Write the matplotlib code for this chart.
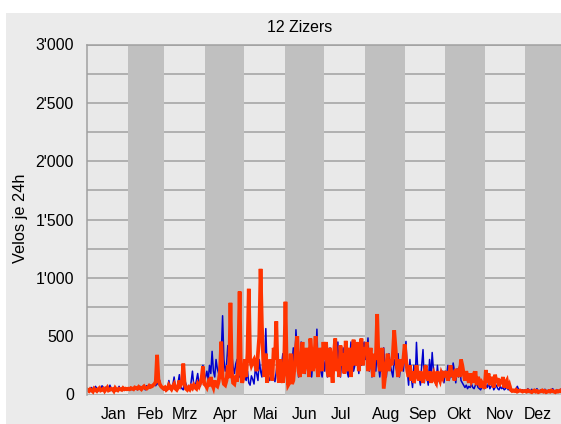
import matplotlib
matplotlib.use("Agg")
import matplotlib.pyplot as plt
from matplotlib.patches import Rectangle

plt.rcParams["font.family"] = ["Liberation Sans", "DejaVu Sans"]

TITLE = "12 Zizers"
Y_LABEL = "Velos je 24h"
MONTHS = ["Jan", "Feb", "Mrz", "Apr", "Mai", "Jun", "Jul", "Aug", "Sep", "Okt", "Nov", "Dez"]
MONTH_DAYS = [31, 28, 31, 30, 31, 30, 31, 31, 30, 31, 30, 31]
# where the month names sit (day of year)
LABEL_DAYS = [20, 48, 75, 106, 136, 166, 194, 228, 256, 284, 315, 344]
Y_TICKS = [0, 500, 1000, 1500, 2000, 2500, 3000]

# daily counts, blue series, one list per month
blue_by_month = [
    [30, 45, 25, 60, 40, 35, 70, 50, 30, 55, 45, 75, 40, 35, 65, 50, 40, 80, 45, 30,
     55, 60, 35, 50, 70, 40, 45, 55, 35, 50, 45],
    [45, 50, 40, 55, 45, 60, 50, 40, 55, 70, 45, 50, 60, 40, 75, 55, 60, 80, 65, 70,
     90, 75, 100, 85, 120, 60, 50, 40],
    [40, 30, 60, 120, 50, 40, 80, 150, 60, 45, 100, 170, 70, 50, 40, 130, 90, 60, 40, 50,
     110, 200, 80, 60, 120, 180, 90, 70, 150, 250, 120],
    [150, 200, 120, 250, 180, 370, 200, 150, 300, 220, 180, 260, 350, 675, 300, 200, 250, 420, 280, 200,
     350, 240, 180, 260, 300, 200, 150, 280, 220, 130],
    [150, 120, 200, 100, 80, 160, 130, 90, 220, 180, 120, 300, 200, 150, 350, 250, 565, 200, 150, 120,
     180, 260, 140, 110, 200, 300, 180, 140, 250, 350, 200],
    [250, 150, 200, 300, 150, 250, 400, 200, 555, 350, 150, 300, 450, 250, 200, 180, 350, 300, 200, 250,
     150, 300, 400, 250, 560, 180, 350, 200, 150, 300],
    [200, 350, 150, 250, 400, 300, 150, 200, 350, 250, 450, 200, 150, 300, 400, 250, 350, 200, 150, 300,
     450, 350, 200, 250, 400, 300, 180, 350, 250, 400, 450],
    [300, 350, 485, 200, 350, 150, 250, 300, 200, 400, 250, 150, 300, 250, 400, 200, 150, 300, 350, 250,
     200, 150, 300, 250, 200, 350, 150, 250, 300, 200, 350],
    [455, 200, 80, 300, 150, 60, 250, 100, 447, 200, 150, 80, 250, 385, 100, 250, 150, 80, 300, 150,
     360, 200, 150, 80, 250, 120, 100, 150, 200, 100],
    [200, 150, 250, 120, 180, 150, 270, 200, 100, 220, 150, 250, 120, 100, 80, 60, 80, 50, 70, 60,
     90, 60, 50, 80, 100, 60, 50, 40, 70, 60, 50],
    [80, 60, 100, 50, 70, 90, 40, 60, 80, 50, 40, 70, 50, 60, 40, 50, 70, 40, 50, 30,
     35, 40, 30, 50, 70, 40, 30, 35, 40, 30],
    [40, 30, 50, 35, 25, 45, 30, 40, 35, 50, 30, 25, 40, 35, 30, 45, 35, 25, 40, 30,
     35, 50, 30, 25, 40, 35, 30, 45, 30, 35, 40],
]

# daily counts, orange series, one list per month
orange_by_month = [
    [40, 30, 45, 35, 25, 50, 40, 30, 45, 55, 35, 40, 50, 30, 45, 60, 35, 40, 50, 45,
     30, 55, 40, 35, 50, 45, 40, 55, 45, 50, 45],
    [50, 45, 55, 50, 45, 60, 55, 50, 65, 55, 45, 60, 70, 55, 50, 60, 75, 65, 70, 80,
     90, 110, 340, 130, 90, 70, 60, 50],
    [60, 40, 50, 80, 60, 45, 70, 90, 50, 40, 60, 120, 80, 100, 265, 90, 50, 40, 60, 45,
     70, 55, 80, 60, 50, 90, 70, 100, 140, 240, 90],
    [80, 60, 100, 70, 150, 90, 60, 120, 80, 70, 110, 200, 453, 150, 90, 80, 120, 250, 140, 786,
     200, 100, 90, 160, 110, 300, 883, 180, 100, 150],
    [300, 150, 350, 906, 300, 250, 280, 300, 250, 200, 350, 500, 1077, 600, 300, 150, 350, 100, 200, 300,
     250, 120, 400, 300, 627, 200, 100, 300, 150, 100, 250],
    [795, 200, 80, 100, 350, 90, 120, 250, 400, 500, 200, 150, 300, 450, 180, 250, 400, 300, 150, 480,
     350, 200, 300, 500, 250, 150, 400, 300, 200, 450],
    [300, 450, 200, 150, 400, 250, 100, 350, 480, 200, 300, 150, 420, 250, 350, 180, 460, 300, 200, 400,
     150, 350, 470, 250, 300, 450, 200, 380, 480, 250, 400],
    [350, 450, 200, 300, 400, 250, 150, 350, 300, 690, 300, 200, 250, 400, 50, 150, 250, 350, 200, 300,
     250, 350, 550, 400, 250, 150, 300, 200, 250, 300, 430],
    [300, 200, 150, 250, 120, 200, 100, 150, 250, 180, 120, 200, 150, 100, 180, 250, 150, 120, 200, 100,
     150, 180, 120, 100, 200, 150, 120, 180, 150, 200],
    [150, 200, 120, 180, 250, 150, 200, 120, 220, 180, 200, 150, 300, 250, 180, 120, 200, 150, 100, 180,
     120, 150, 100, 200, 80, 150, 120, 60, 100, 80, 50],
    [210, 100, 180, 80, 150, 120, 60, 170, 100, 140, 70, 130, 90, 150, 60, 100, 120, 50, 80, 40,
     30, 35, 30, 40, 25, 30, 35, 30, 25, 30],
    [30, 25, 35, 30, 25, 20, 30, 35, 25, 30, 20, 25, 30, 35, 25, 30, 20, 25, 30, 25,
     35, 30, 25, 20, 30, 25, 30, 35, 25, 30, 25],
]

BLUE = "#0000cc"
ORANGE = "#ff3300"
PANEL = "#ebebeb"
LIGHT = "#e9e9e9"
DARK = "#c0c0c0"
GRID = "#a0a0a0"

W, H = 561, 424
fig = plt.figure(figsize=(W / 100, H / 100), dpi=100)
fig.patch.set_facecolor("white")
fig.patches.append(Rectangle((6 / W, 0), 1, 1 - 13.3 / H, transform=fig.transFigure,
                             facecolor=PANEL, edgecolor="none", zorder=-10))

# plot area runs a bit past the right edge of the picture (Dec is cut off)
px_day = 1.31
left_px, top_px, bottom_px = 87.0, 44.5, 394.5
ax = fig.add_axes([left_px / W, (H - bottom_px) / H, 365 * px_day / W, (bottom_px - top_px) / H])
ax.set_facecolor(LIGHT)

blue = [v for month in blue_by_month for v in month]
orange = [v for month in orange_by_month for v in month]
days = [i + 0.5 for i in range(len(blue))]

for y in range(0, 3001, 250):
    ax.axhline(y, color=GRID, lw=1.1, zorder=1)

start = 0
for i, n in enumerate(MONTH_DAYS):
    if i % 2 == 1:
        ax.axvspan(start, start + n, color=DARK, lw=0, zorder=2)
    start += n

ax.plot(days, blue, color=BLUE, lw=1.1, zorder=3)
ax.plot(days, orange, color=ORANGE, lw=2.7, zorder=4, solid_joinstyle="miter")

ax.set_xlim(0, 365)
ax.set_ylim(0, 3000)
ax.set_yticks(Y_TICKS)
ax.set_yticklabels([f"{v:,}".replace(",", "'") for v in Y_TICKS], fontsize=11.4)
ax.set_xticks(LABEL_DAYS)
ax.set_xticklabels(MONTHS, fontsize=11.4)
ax.tick_params(axis="y", length=0, pad=9.4)
ax.tick_params(axis="x", length=0, pad=9.2)

for side in ("right", "bottom"):
    ax.spines[side].set_visible(False)
for side in ("left", "top"):
    ax.spines[side].set_color(GRID)
    ax.spines[side].set_linewidth(1.1)
    ax.spines[side].set_zorder(5)

fig.text(300 / W, 1 - 27.5 / H, TITLE, ha="center", va="center", fontsize=11.4)
fig.text(21 / W, 1 - 218 / H, Y_LABEL, ha="center", va="center", rotation=90, fontsize=11.8)

fig.savefig("out.png", dpi=100)
